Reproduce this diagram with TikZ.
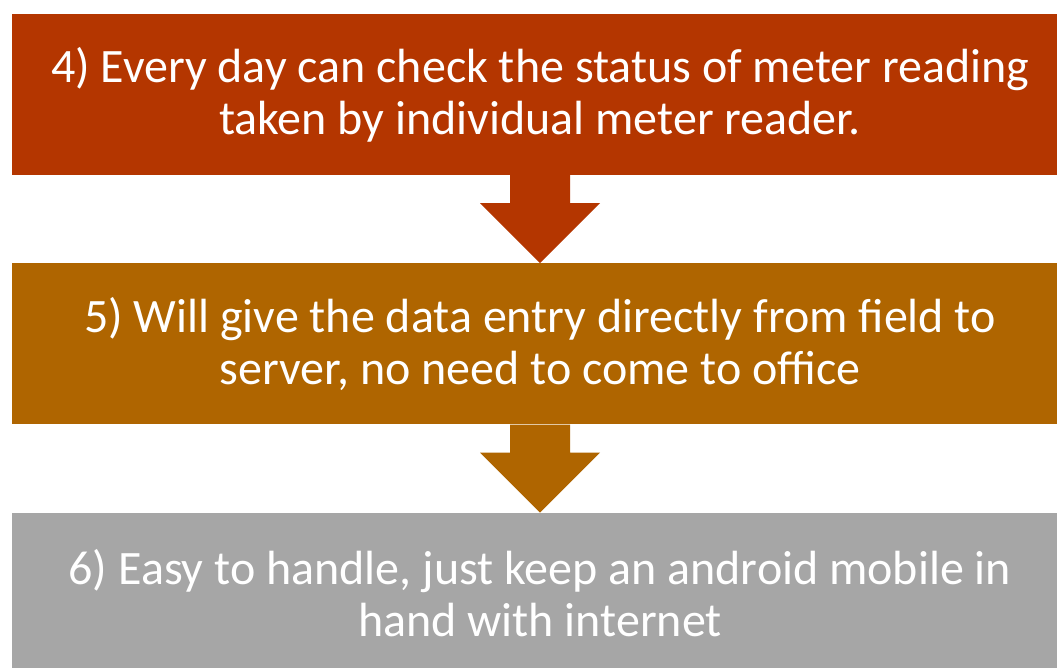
\documentclass[tikz,border=0pt]{standalone}
\usepackage{fontspec}
\setmainfont{Carlito}
\usetikzlibrary{positioning,calc}
\definecolor{rust}{RGB}{180,54,0}
\definecolor{amber}{RGB}{175,101,0}
\definecolor{stone}{RGB}{166,166,166}
\tikzset{
  stage/.style={rectangle,draw=none,minimum width=1056pt,minimum height=161pt,
    inner sep=0pt,text=white,align=center,font=\fontsize{48}{52}\selectfont},
}
\begin{document}
\begin{tikzpicture}[x=1pt,y=1pt,node distance=88pt]
  \useasboundingbox (0,0) rectangle (1057,-668);
  \fill[white] (0,0) rectangle (1057,-668);
  \node[stage,fill=rust] (b4) at (540,-94.5){4) Every day can check the status of meter reading\\
    taken by individual meter reader.};
  \node[stage,fill=amber,below=of b4] (b5){5) Will give the data entry directly from field to\\
    server, no need to come to office};
  \node[stage,fill=stone,below=of b5] (b6){6) Easy to handle, just keep an android mobile in\\
    hand with internet};
  % block arrows between the stages
  \foreach \a/\b/\c in {b4/b5/rust,b5/b6/amber}{
    \fill[\c] ($(\a.south)+(-30,0)$) -- ($(\a.south)+(-30,-28)$) -- ($(\a.south)+(-60,-28)$)
      -- (\b.north) -- ($(\a.south)+(60,-28)$) -- ($(\a.south)+(30,-28)$)
      -- ($(\a.south)+(30,0)$) -- cycle;
  }
\end{tikzpicture}
\end{document}
